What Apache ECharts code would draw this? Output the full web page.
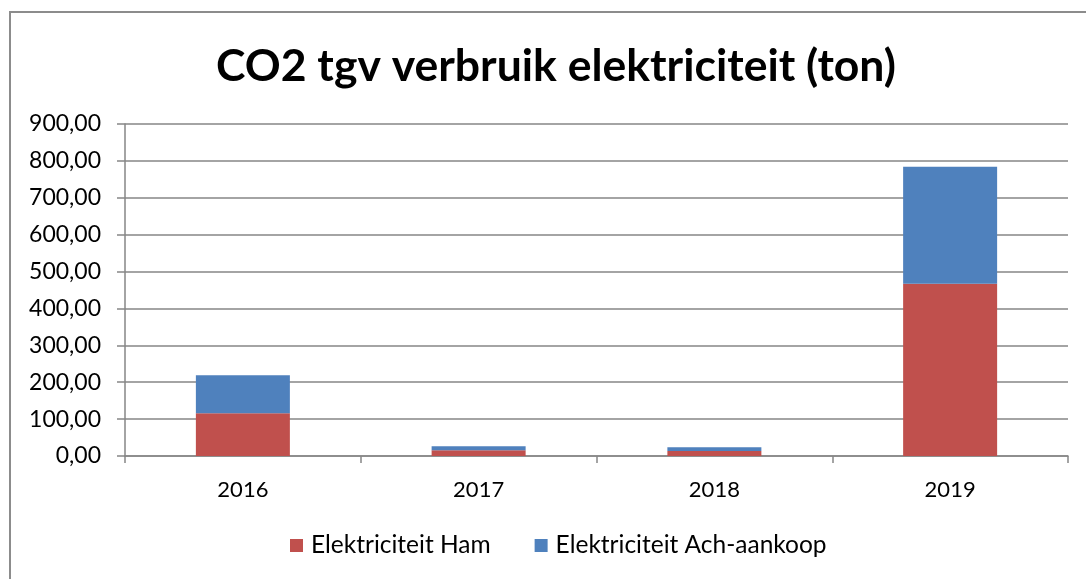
<!DOCTYPE html>
<html>
<head>
<meta charset="utf-8">
<script src="https://cdn.jsdelivr.net/npm/echarts@6/dist/echarts.min.js"></script>
<style>
  html, body { margin: 0; padding: 0; background: #fff; }
  #chart { width: 1086px; height: 579px; }
  #frame { position: absolute; left: 9px; top: 11px; right: 0; bottom: 0;
           border-left: 2px solid #8c8c8c; border-top: 2px solid #8c8c8c; pointer-events: none; }
</style>
</head>
<body>
<div id="chart"></div>
<div id="frame"></div>
<script>
const years = ['2016', '2017', '2018', '2019']
const ham = [116, 15.5, 13.6, 467]
const achAankoop = [103, 11, 10, 317]
const seriesNames = ['Elektriciteit Ham', 'Elektriciteit Ach-aankoop']
const colors = ['#C0504D', '#4F81BD']

const fontFamily = 'Lato, "Open Sans", sans-serif'
const fmt = v => v.toFixed(2).replace('.', ',')

const chart = echarts.init(document.getElementById('chart'))

const options = {
  animation: false,
  title: {
    text: 'CO2 tgv verbruik elektriciteit (ton)',
    left: 211,
    top: 39,
    textStyle: { fontFamily, fontSize: 44.5, fontWeight: 'bold', color: '#000' }
  },
  legend: {
    bottom: 16,
    left: 285,
    itemWidth: 13,
    itemHeight: 13,
    itemGap: 44,
    icon: 'rect',
    textStyle: { fontFamily, fontSize: 24.5, color: '#000', padding: [0, 0, 0, 3] },
    data: seriesNames
  },
  grid: { left: 125, right: 18, top: 124, bottom: 123 },
  xAxis: {
    type: 'category',
    data: years,
    axisLine: { lineStyle: { color: '#868686', width: 1.5 } },
    axisTick: { show: true, length: 7, lineStyle: { color: '#868686', width: 1.5 } },
    axisLabel: { fontFamily, fontSize: 22, color: '#000', margin: 23 }
  },
  yAxis: {
    type: 'value',
    min: 0,
    max: 900,
    interval: 100,
    axisLine: { show: true, lineStyle: { color: '#868686', width: 1.5 } },
    axisTick: { show: true, length: 8, lineStyle: { color: '#868686', width: 1.5 } },
    splitLine: { lineStyle: { color: '#868686', width: 1.5 } },
    axisLabel: { fontFamily, fontSize: 23, color: '#000', margin: 24, formatter: fmt }
  },
  series: [
    {
      name: seriesNames[0],
      type: 'bar',
      stack: 'total',
      barWidth: 94,
      itemStyle: { color: colors[0] },
      data: ham
    },
    {
      name: seriesNames[1],
      type: 'bar',
      stack: 'total',
      barWidth: 94,
      itemStyle: { color: colors[1] },
      data: achAankoop
    }
  ]
}

chart.setOption(options)
</script>
</body>
</html>
